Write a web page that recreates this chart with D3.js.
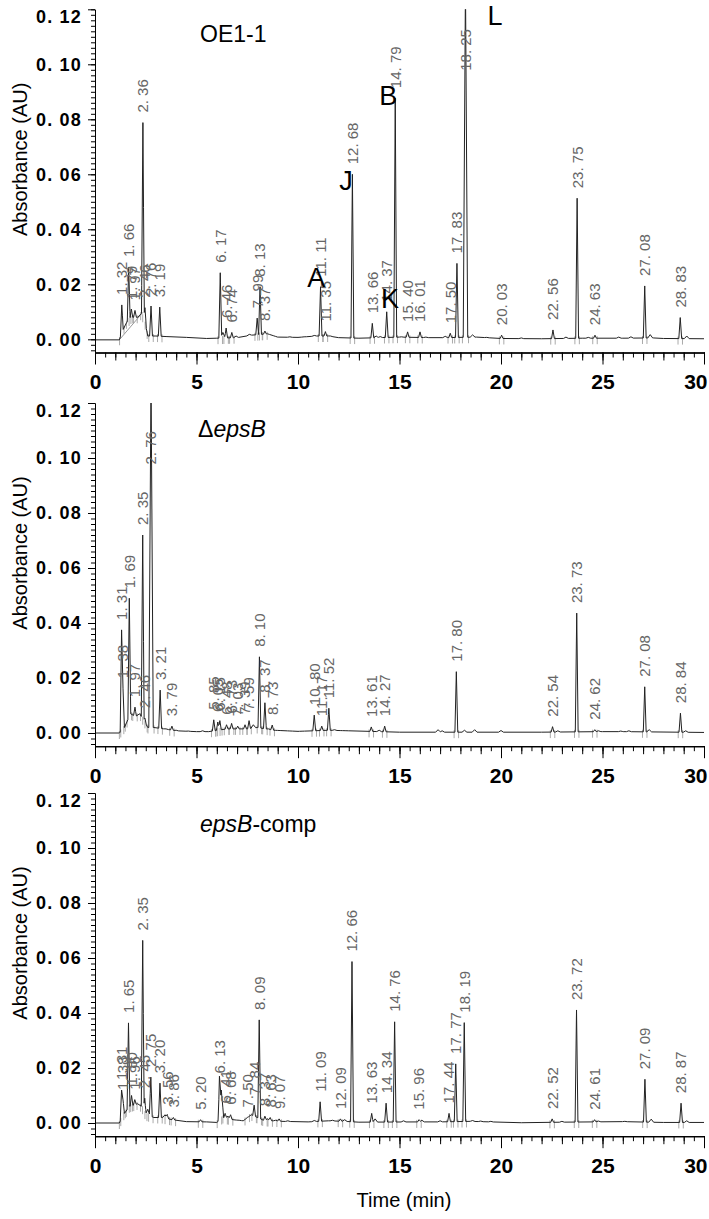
<!DOCTYPE html>
<html lang="en">
<head>
<meta charset="UTF-8">
<title>Chromatograms</title>
<script src="https://cdn.jsdelivr.net/npm/d3@7"></script>
<style>
  body { margin: 0; background: #fff; }
  svg { display: block; }
  .ytick text { font-family: "Liberation Sans Narrow", "Arial Narrow", sans-serif; font-weight: bold; font-size: 18px; letter-spacing: 1.2px; fill: #000; }
  .xtick text { font-family: "Liberation Sans Narrow", "Arial Narrow", sans-serif; font-weight: bold; font-size: 21px; fill: #000; }
  .domain, .tick line { stroke: #000; stroke-width: 1; }
  .peak-lbl { font-family: "Liberation Sans Narrow", "Arial Narrow", sans-serif; font-size: 15px; fill: #666; }
  .title { font-family: "Liberation Sans", Arial, sans-serif; font-size: 23px; fill: #000; }
  .letter { font-family: "Liberation Sans", Arial, sans-serif; font-size: 27px; fill: #000; }
  .axis-title { font-family: "Liberation Sans", Arial, sans-serif; font-size: 20px; fill: #000; }
</style>
</head>
<body>
<script>
// ---- data ----
const xMajor = [0, 5, 10, 15, 20, 25, 30];
const yMajor = [0, 0.02, 0.04, 0.06, 0.08, 0.10, 0.12];

// OE1-1
const oeTimes = [1.32, 1.66, 1.79, 1.97, 2.36, 2.46, 2.76, 3.19, 6.17, 6.46, 6.74, 7.99, 8.13, 8.37, 11.11, 11.35, 12.68, 13.66, 14.37, 14.79, 15.40, 16.01, 17.50, 17.83, 18.25, 20.03, 22.56, 23.75, 24.63, 27.08, 28.83];
const oeHeights = [0.0125, 0.0263, 0.011, 0.0105, 0.0788, 0.0115, 0.0121, 0.0117, 0.0242, 0.0041, 0.0025, 0.0077, 0.0191, 0.003, 0.0191, 0.0028, 0.060, 0.0058, 0.0100, 0.0877, 0.0027, 0.0027, 0.0022, 0.0276, 0.13, 0.0015, 0.0034, 0.0513, 0.0015, 0.0194, 0.0079];
const oeMinorTimes = [6.3, 6.95, 7.6, 8.6, 8.9, 9.6, 10.3, 10.8, 11.6, 13.85, 14.05, 15.1, 16.3, 17.25, 18.6, 19.3, 21.0, 23.2, 24.3, 25.8, 26.4, 27.35, 29.15];
const oeMinorHeights = [0.0025, 0.0012, 0.0018, 0.0015, 0.001, 0.0009, 0.0009, 0.0014, 0.0012, 0.0012, 0.001, 0.0009, 0.0008, 0.0011, 0.0016, 0.0007, 0.0005, 0.0008, 0.0007, 0.0008, 0.0009, 0.0017, 0.0012];
const oeBaseTimes = [0, 1.2, 1.35, 1.55, 1.8, 2.1, 2.3, 2.5, 2.6, 3.0, 3.5, 4.5, 5.5, 6.0, 7.0, 7.7, 8.5, 9.0, 10.0, 10.9, 11.5, 12.0, 13.0, 15.0, 16.5, 17.2, 18.8, 20.0, 22.0, 24.0, 26.0, 27.5, 28.0, 30.0];
const oeBaseValues = [-0.0002, -0.0002, 0.003, 0.006, 0.008, 0.008, 0.0095, 0.005, 0.0012, 0.0012, 0.001, 0.0007, 0.0003, 0.0004, 0.0006, 0.0015, 0.002, 0.0008, 0.0007, 0.0012, 0.0012, 0.0006, 0.0004, 0.0008, 0.0006, 0.0006, 0.0008, 0.0003, 0.0002, 0.0004, 0.0004, 0.0005, 0.0003, 0.0002];

// deltaepsB
const dTimes = [1.31, 1.38, 1.69, 1.97, 2.35, 2.46, 2.76, 3.21, 3.79, 5.85, 6.05, 6.15, 6.48, 6.73, 7.03, 7.39, 7.59, 8.10, 8.37, 8.73, 10.80, 11.17, 11.52, 13.61, 14.27, 17.80, 22.54, 23.73, 24.62, 27.08, 28.84];
const dHeights = [0.0375, 0.0163, 0.049, 0.0094, 0.072, 0.0054, 0.13, 0.0156, 0.0025, 0.0048, 0.004, 0.0045, 0.003, 0.0035, 0.0025, 0.003, 0.0045, 0.0277, 0.011, 0.0029, 0.0065, 0.0025, 0.009, 0.0022, 0.0025, 0.0223, 0.0023, 0.0436, 0.0012, 0.0168, 0.0072];
const dMinorTimes = [3.5, 4.0, 4.6, 5.3, 7.8, 8.55, 9.0, 9.6, 10.2, 11.8, 12.2, 14.0, 16.9, 17.1, 18.2, 18.7, 20.0, 22.8, 24.8, 25.9, 26.3, 27.3, 29.1];
const dMinorHeights = [0.0015, 0.001, 0.0007, 0.0008, 0.003, 0.0015, 0.0008, 0.0007, 0.0006, 0.0012, 0.0008, 0.001, 0.0012, 0.0008, 0.001, 0.0012, 0.0009, 0.0008, 0.0008, 0.0007, 0.0008, 0.0012, 0.0008];
const dBaseTimes = [0, 1.2, 1.45, 1.75, 2.0, 2.2, 2.45, 2.6, 2.9, 3.4, 4.0, 5.0, 5.6, 6.5, 7.5, 8.0, 8.8, 10.0, 11.5, 12.5, 15.0, 20.0, 22.0, 25.0, 26.0, 30.0];
const dBaseValues = [0, 0, 0.002, 0.007, 0.006, 0.007, 0.004, 0.002, 0.002, 0.0015, 0.0008, 0.0005, 0.0005, 0.0015, 0.0015, 0.002, 0.001, 0.0006, 0.001, 0.0008, 0.0003, 0.0003, 0.0003, 0.0005, 0.0005, 0.0002];

// epsB-comp
const cTimes = [1.31, 1.38, 1.65, 1.80, 1.96, 2.35, 2.45, 2.75, 3.20, 3.56, 3.86, 5.20, 6.13, 6.41, 6.68, 7.50, 7.84, 8.09, 8.37, 8.63, 9.07, 11.09, 12.09, 12.66, 13.63, 14.34, 14.76, 15.96, 17.44, 17.77, 18.19, 22.52, 23.72, 24.61, 27.09, 28.87];
const cHeights = [0.012, 0.0084, 0.0364, 0.010, 0.0085, 0.0664, 0.009, 0.0167, 0.0145, 0.003, 0.002, 0.0012, 0.0144, 0.0035, 0.003, 0.002, 0.0065, 0.0375, 0.0025, 0.002, 0.0015, 0.0077, 0.0015, 0.0587, 0.0035, 0.0072, 0.0368, 0.0012, 0.0035, 0.0215, 0.0365, 0.0015, 0.0411, 0.0012, 0.0159, 0.0072];
const cMinorTimes = [2.6, 3.45, 6.22, 6.55, 7.1, 8.5, 8.9, 9.5, 10.8, 11.7, 12.3, 13.8, 15.2, 16.1, 17.0, 18.6, 19.0, 19.5, 23.0, 24.8, 26.1, 27.4, 29.15];
const cMinorHeights = [0.005, 0.003, 0.012, 0.0025, 0.001, 0.0015, 0.001, 0.0008, 0.0009, 0.001, 0.0012, 0.0015, 0.0008, 0.001, 0.0008, 0.0009, 0.0007, 0.0006, 0.0006, 0.0007, 0.0006, 0.0014, 0.0008];
const cBaseTimes = [0, 1.2, 1.4, 1.7, 2.1, 2.3, 2.5, 2.9, 3.3, 3.8, 4.5, 5.5, 6.0, 6.3, 6.8, 7.3, 7.7, 8.3, 9.2, 10.5, 11.5, 12.3, 13.0, 16.0, 17.0, 18.5, 20.0, 21.0, 23.0, 26.0, 28.0, 30.0];
const cBaseValues = [0, 0, 0.003, 0.006, 0.007, 0.006, 0.003, 0.002, 0.002, 0.0012, 0.0005, 0.0004, 0.0002, 0.002, 0.0012, 0.0008, 0.003, 0.001, 0.0006, 0.0004, 0.0008, 0.0006, 0.0003, 0.0004, 0.0004, 0.0006, 0.0003, 0.0001, 0.0003, 0.0005, 0.0002, 0.0002];

// peak letters of the OE1-1 trace (letter, time, absorbance at baseline of letter)
const letterNames = ["A", "J", "B", "K", "L"];
const letterTimes = [10.9, 12.37, 14.45, 14.53, 19.7];
const letterValues = [0.019, 0.0543, 0.0852, 0.0114, 0.1143];

// integration baseline drawn under the first OE1-1 cluster
const oeDropTimes = [1.22, 2.36];
const oeDropValues = [0, 0.0098];

// ---- layout ----
const W = 709, H = 1219;
const X0 = 95, X1 = 704;
const K = 2750;                    // px per AU
const panelZero = [339.3, 733, 1123];
const yLow = -0.0048, yHigh = 0.12;

const svg = d3.select("body").append("svg")
  .attr("width", W).attr("height", H)
  .attr("viewBox", `0 0 ${W} ${H}`);

const x = d3.scaleLinear().domain([0, 30]).range([X0, X1]);

const panels = [
  {times: oeTimes, heights: oeHeights, mt: oeMinorTimes, mh: oeMinorHeights, bt: oeBaseTimes, bv: oeBaseValues},
  {times: dTimes, heights: dHeights, mt: dMinorTimes, mh: dMinorHeights, bt: dBaseTimes, bv: dBaseValues},
  {times: cTimes, heights: cHeights, mt: cMinorTimes, mh: cMinorHeights, bt: cBaseTimes, bv: cBaseValues}
];

const fmtY = d => d3.format(".2f")(d).replace(".", ". ");
const fmtPeak = d => d.toFixed(2).replace(".", ". ");

panels.forEach((p, i) => {
  const zero = panelZero[i];
  const y = d3.scaleLinear().domain([yLow, yHigh]).range([zero - yLow * K, zero - yHigh * K]);
  const g = svg.append("g");

  // clip to the plotting area
  const clipId = "clip" + i;
  svg.append("clipPath").attr("id", clipId).append("rect")
    .attr("x", X0).attr("y", y(yHigh))
    .attr("width", X1 - X0).attr("height", y(yLow) - y(yHigh));

  // baseline interpolation from knots
  const baseAt = d3.scaleLinear().domain(p.bt).range(p.bv).clamp(true);

  // all peaks as triangles (labelled + minor)
  const peaks = p.times.map((t, j) => ({t, h: p.heights[j], w: p.heights[j] > 0.1 ? 0.11 : 0.07, label: true}))
    .concat(p.mt.map((t, j) => ({t, h: p.mh[j], w: 0.12, label: false})));
  peaks.forEach(pk => { pk.a = Math.max(0, pk.h - baseAt(pk.t)); });

  let ts = p.bt.slice();
  peaks.forEach(pk => ts.push(pk.t - pk.w, pk.t, pk.t + pk.w));
  ts = Array.from(new Set(ts.filter(t => t >= 0 && t <= 30).map(t => +t.toFixed(4)))).sort((a, b) => a - b);
  const trace = ts.map(t => {
    let v = baseAt(t);
    peaks.forEach(pk => {
      const d = Math.abs(t - pk.t);
      if (d < pk.w) v += pk.a * (1 - d / pk.w);
    });
    return [t, v];
  });

  // integration marks (grey)
  const marks = [];
  peaks.filter(pk => pk.label).forEach(pk => {
    marks.push(pk.t - pk.w - 0.04, pk.t + pk.w + 0.04);
  });
  g.append("g").attr("clip-path", `url(#${clipId})`)
    .selectAll("line").data(marks).join("line")
    .attr("x1", d => x(d)).attr("x2", d => x(d))
    .attr("y1", d => y(baseAt(d)) - 2).attr("y2", d => y(baseAt(d)) + 6)
    .attr("stroke", "#aaa").attr("stroke-width", 1);

  if (i === 0) {
    g.append("line")
      .attr("x1", x(oeDropTimes[0])).attr("y1", y(oeDropValues[0]))
      .attr("x2", x(oeDropTimes[1])).attr("y2", y(oeDropValues[1]))
      .attr("stroke", "#999").attr("stroke-width", 1);
  }

  // trace
  g.append("path").datum(trace)
    .attr("clip-path", `url(#${clipId})`)
    .attr("fill", "none").attr("stroke", "#222").attr("stroke-width", 1)
    .attr("stroke-linejoin", "round")
    .attr("d", d3.line().x(d => x(d[0])).y(d => y(d[1])));

  // peak labels
  g.selectAll(".peak-lbl").data(peaks.filter(pk => pk.label)).join("text")
    .attr("class", "peak-lbl")
    .attr("transform", d => `translate(${x(d.t)},${y(d.h > yHigh ? 0.094 : d.h) - 10}) rotate(-90)`)
    .attr("dy", "0.36em")
    .text(d => fmtPeak(d.t));

  // y axis: minor, then major
  const yMinor = d3.range(-2, 61).map(k => +(k * 0.002).toFixed(3));
  g.append("g").attr("transform", `translate(${X0},0)`)
    .call(d3.axisLeft(y).tickValues(yMinor).tickSize(4).tickSizeOuter(0).tickFormat(""));
  const ya = g.append("g").attr("class", "ytick").attr("transform", `translate(${X0},0)`)
    .call(d3.axisLeft(y).tickValues(yMajor).tickSize(7).tickSizeOuter(0).tickPadding(6).tickFormat(fmtY));
  ya.selectAll(".tick text").filter(d => d === 0.12).attr("dy", "0.75em");

  // x axis: halves, minutes, majors
  const xb = y(yLow);
  g.append("g").attr("transform", `translate(0,${xb})`)
    .call(d3.axisBottom(x).tickValues(d3.range(0, 61).map(k => k / 2)).tickSize(5).tickSizeOuter(0).tickFormat(""));
  g.append("g").attr("transform", `translate(0,${xb})`)
    .call(d3.axisBottom(x).tickValues(d3.range(0, 31)).tickSize(8).tickSizeOuter(0).tickFormat(""));
  const xa = g.append("g").attr("class", "xtick").attr("transform", `translate(0,${xb})`)
    .call(d3.axisBottom(x).tickValues(xMajor).tickSize(12).tickSizeOuter(0).tickPadding(10).tickFormat(d3.format("d")));
  // last label kept inside the picture, as in the original
  xa.selectAll(".tick text").filter(d => d === 30).attr("text-anchor", "end").attr("x", 3);

  // y axis title
  g.append("text").attr("class", "axis-title")
    .attr("transform", `translate(${27},${zero - 180}) rotate(-90)`)
    .attr("text-anchor", "middle")
    .text("Absorbance (AU)");
});

// panel titles
svg.append("text").attr("class", "title").attr("x", 200).attr("y", 42).text("OE1-1");
const t1 = svg.append("text").attr("class", "title").attr("x", 198).attr("y", 437);
t1.append("tspan").text("Δ");
t1.append("tspan").attr("font-style", "italic").text("epsB");
const t2 = svg.append("text").attr("class", "title").attr("x", 200).attr("y", 832);
t2.append("tspan").attr("font-style", "italic").text("epsB");
t2.append("tspan").text("-comp");

// letters on OE1-1
const yTop = d3.scaleLinear().domain([yLow, yHigh]).range([panelZero[0] - yLow * K, panelZero[0] - yHigh * K]);
svg.selectAll(".letter").data(letterNames).join("text")
  .attr("class", "letter")
  .attr("text-anchor", "middle")
  .attr("x", (d, j) => x(letterTimes[j]))
  .attr("y", (d, j) => yTop(letterValues[j]))
  .text(d => d);

// x axis title
svg.append("text").attr("class", "axis-title")
  .attr("x", 404).attr("y", 1207)
  .attr("text-anchor", "middle")
  .text("Time (min)");
</script>
</body>
</html>
